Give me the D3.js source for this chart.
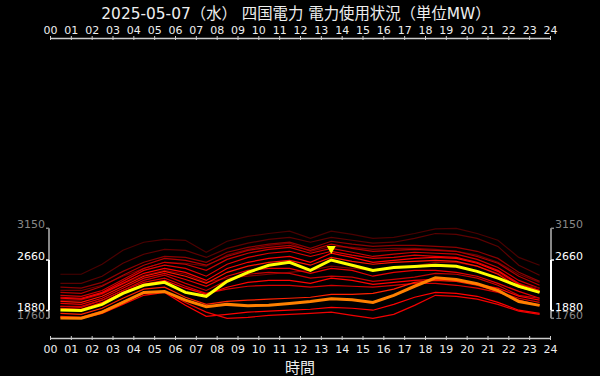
<!DOCTYPE html>
<html lang="ja">
<head>
<meta charset="UTF-8">
<script src="https://d3js.org/d3.v7.min.js"></script>
<title>四国電力 電力使用状況</title>
<style>
  body { margin:0; background:#000; }
  svg text { font-family:"DejaVu Sans","Noto Sans CJK JP",sans-serif; }
</style>
</head>
<body>
<svg id="chart" width="600" height="376"></svg>
<script>
// ---- data (MW, hourly values, plotted at the middle of each hour) ----
const hourLabels = ["00","01","02","03","04","05","06","07","08","09","10","11","12",
                    "13","14","15","16","17","18","19","20","21","22","23","24"];
const yTicks = [1760, 1880, 2660, 3150];

const today     = [1890,1880,1975,2145,2270,2315,2160,2100,2330,2470,2580,2625,2500,2660,2580,2500,2545,2560,2580,2565,2485,2380,2255,2160];
const yesterday = [1765,1760,1855,2005,2160,2175,2040,1940,1975,1955,1960,1990,2020,2060,2045,2005,2115,2255,2385,2360,2295,2190,2020,1960];

const past01 = [2440,2440,2595,2810,2935,2980,2965,2780,2950,3025,3070,3105,2995,3105,3055,2995,3010,3070,3140,3150,3070,2965,2700,2580];
const past02 = [2300,2300,2410,2610,2750,2825,2810,2700,2840,2920,2980,3010,2935,3010,2965,2920,2935,2995,3070,3055,2995,2870,2580,2425];
const past03 = [2190,2190,2270,2410,2530,2625,2610,2565,2735,2825,2885,2920,2795,2870,2855,2825,2840,2840,2825,2795,2735,2625,2440,2315];
const past04 = [2240,2225,2315,2485,2625,2715,2700,2625,2780,2855,2905,2935,2840,2950,2905,2870,2885,2885,2870,2855,2795,2685,2470,2330];
const past05 = [2160,2145,2255,2425,2580,2685,2655,2580,2715,2810,2855,2885,2810,2905,2840,2795,2810,2825,2810,2795,2715,2610,2410,2270];
const past06 = [2115,2100,2190,2360,2530,2625,2595,2500,2670,2765,2825,2855,2765,2840,2780,2715,2750,2780,2765,2750,2670,2545,2345,2225];
const past07 = [2085,2070,2160,2330,2500,2580,2530,2410,2595,2700,2765,2795,2715,2795,2735,2685,2700,2735,2715,2700,2625,2500,2300,2190];
const past08 = [2040,2040,2130,2285,2425,2500,2440,2315,2380,2410,2440,2470,2500,2565,2530,2500,2530,2565,2625,2625,2565,2455,2285,2225];
const past09 = [2070,2055,2145,2300,2455,2530,2470,2345,2530,2625,2685,2715,2625,2765,2700,2625,2655,2685,2700,2685,2610,2485,2285,2190];
const past10 = [2020,2005,2100,2255,2410,2485,2410,2300,2470,2565,2625,2655,2580,2700,2640,2595,2625,2640,2655,2640,2565,2440,2240,2160];
const past11 = [1990,1975,2070,2225,2380,2455,2360,2255,2410,2500,2530,2530,2455,2530,2500,2410,2470,2500,2500,2470,2410,2300,2175,2070];
const past12 = [1945,1945,2040,2190,2345,2425,2300,2190,2345,2440,2470,2455,2380,2410,2395,2330,2360,2395,2455,2440,2380,2270,2115,2070];
const past13 = [1945,1930,2040,2190,2315,2380,2255,2145,2210,2255,2270,2270,2240,2270,2255,2240,2270,2300,2300,2270,2225,2160,2070,2005];
const past14 = [1915,1900,2005,2160,2285,2345,2225,2130,2240,2315,2345,2345,2300,2380,2345,2285,2315,2345,2360,2345,2285,2225,2100,2040];
const past15 = [1835,1820,1915,2070,2210,2240,2085,1975,2020,2040,2055,2070,2085,2130,2130,2145,2210,2315,2345,2330,2270,2175,2040,1960];
const past16 = [1775,1760,1835,1975,2115,2160,1960,1790,1820,1855,1870,1885,1900,1930,1915,1885,1975,2085,2160,2145,2100,2005,1885,1835];
const past17 = [1790,1775,1870,2020,2145,2175,2005,1855,1760,1775,1805,1820,1835,1855,1805,1760,1820,1960,2115,2100,2055,1975,1870,1820];

const pastDays = [past01,past02,past03,past04,past05,past06,past07,past08,past09,
                  past10,past11,past12,past13,past14,past15,past16,past17];
const pastColors = ["#4a0000","#5c0000","#6e0000","#8c0000","#b00000","#cc0000","#e00000","#780000",
                    "#ff0000","#ff1400","#e80000","#c80000","#d40000","#ff0000","#ff2000","#ff0000","#f00000"];

// ---- layout ----
const svg = d3.select("svg#chart");
const x = d3.scaleLinear().domain([0,24]).range([50,550]);
const y = d3.scaleLinear().domain([1760,3150]).range([318.3,228.3]);

svg.append("rect").attr("width",600).attr("height",376).attr("fill","#000");

// title
svg.append("text")
  .attr("x",296).attr("y",19)
  .attr("text-anchor","middle")
  .attr("fill","#eee")
  .attr("font-size",15.4)
  .text("2025-05-07（水） 四国電力 電力使用状況（単位MW）");

// hour axes
const topAxis = d3.axisTop(x).tickValues(d3.range(25))
  .tickFormat(i => hourLabels[i]).tickSize(2).tickPadding(2).tickSizeOuter(0);
const gTop = svg.append("g").attr("transform","translate(0,38)").call(topAxis);

const bottomAxis = d3.axisBottom(x).tickValues(d3.range(25))
  .tickFormat(i => hourLabels[i]).tickSize(2).tickPadding(5).tickSizeOuter(0);
const gBot = svg.append("g").attr("transform","translate(0,338)").call(bottomAxis);

[gTop,gBot].forEach(g => {
  g.select(".domain").attr("stroke","#ccc").attr("stroke-width",1.5);
  g.selectAll(".tick line").attr("stroke","#ccc").attr("y1",-2).attr("y2",2);
  g.selectAll(".tick text").attr("fill","#eee").attr("font-size",11)
    .attr("font-family","DejaVu Sans, Noto Sans CJK JP, sans-serif");
});

svg.append("text")
  .attr("x",300).attr("y",373)
  .attr("text-anchor","middle")
  .attr("fill","#eee")
  .attr("font-size",15)
  .text("時間");

// value brackets left and right
function bracket(xPos, dir) {
  const g = svg.append("g");
  const segs = [[3150,2660,"#888"],[2660,1880,"#fff"],[1880,1760,"#888"]];
  segs.forEach(s => {
    g.append("line").attr("x1",xPos).attr("x2",xPos)
      .attr("y1",y(s[0])).attr("y2",y(s[1]))
      .attr("stroke",s[2]).attr("stroke-width",2);
  });
  yTicks.forEach(v => {
    const c = (v === 2660 || v === 1880) ? "#fff" : "#888";
    g.append("line").attr("x1",xPos).attr("x2",xPos + dir*3)
      .attr("y1",y(v)).attr("y2",y(v))
      .attr("stroke",c).attr("stroke-width",1.5);
    g.append("text")
      .attr("x",xPos + dir*4).attr("y",y(v))
      .attr("dy", v === 1760 ? 1 : 0)
      .attr("text-anchor", dir < 0 ? "end" : "start")
      .attr("fill",c).attr("font-size",11)
      .text(v);
  });
}
bracket(49,-1);
bracket(551,1);

// lines
const line = d3.line()
  .x((d,i) => x(i + 0.5))
  .y(d => y(d));

const gLines = svg.append("g");
pastDays.forEach((d,i) => {
  gLines.append("path").datum(d)
    .attr("fill","none")
    .attr("stroke",pastColors[i])
    .attr("stroke-width",1.2)
    .attr("d",line);
});

gLines.append("path").datum(yesterday)
  .attr("fill","none").attr("stroke","#ff8000").attr("stroke-width",3)
  .attr("d",line);

gLines.append("path").datum(today)
  .attr("fill","none").attr("stroke","#ffff00").attr("stroke-width",3)
  .attr("d",line);

// peak marker
const peakIdx = today.indexOf(d3.max(today));
const px = x(peakIdx + 0.5), py = y(today[peakIdx]) - 6;
svg.append("path")
  .attr("d", `M${px-4.5},${py-8}L${px+4.5},${py-8}L${px},${py}Z`)
  .attr("fill","#ffff00");
</script>
</body>
</html>
